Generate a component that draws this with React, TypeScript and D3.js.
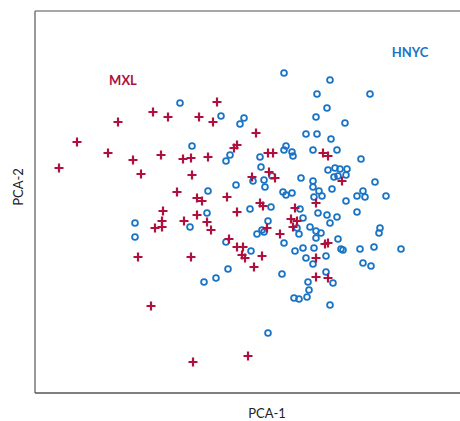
import React from "react";
import * as d3 from "d3";

// PCA scores (arbitrary units)
const mxl: [number, number][] = [
  [-33, 118], [-97, 108], [-82, 103], [-51, 103], [-37, 98], [-132, 98], [-173, 78],
  [-142, 67], [-89, 65], [-67, 61], [-59, 62], [-42, 63], [-117, 60], [-191, 52],
  [-109, 46], [-58, 45], [-73, 28], [-53, 22], [-48, 19], [-23, 23], [6, 87],
  [-13, 75], [-16, 72], [18, 67], [23, 67], [19, 48], [25, 42], [2, 43], [73, 67],
  [78, 64], [92, 39], [66, 17], [10, 17], [13, 14], [45, 12], [-87, 9], [-88, -1],
  [-95, -8], [-88, -7], [-66, -1], [-53, 5], [-43, -2], [-39, -10], [-13, 8], [17, -8],
  [-21, -19], [-13, -27], [-7, -27], [-8, -35], [-5, -38], [12, -36], [4, -47],
  [-112, -37], [-59, -37], [-99, -86], [-57, -142], [-2, -136], [41, 1], [47, -1],
  [43, -7], [30, -14], [75, -24], [78, -23], [66, -38], [66, -57], [78, -58],
];

const hnyc: [number, number][] = [
  [-70, 117], [-29, 104], [-58, 74], [-24, 59], [-20, 65], [-42, 29], [-6, 102],
  [-10, 96], [10, 63], [11, 53], [3, 39], [14, 40], [22, 44], [15, 33], [-14, 35],
  [34, 147], [80, 140], [67, 126], [120, 126], [77, 112], [66, 103], [95, 97],
  [56, 86], [67, 86], [81, 81], [36, 74], [34, 70], [42, 68], [43, 64], [63, 70],
  [87, 70], [111, 61], [51, 42], [63, 39], [63, 33], [69, 29], [72, 24], [64, 23],
  [33, 28], [36, 25], [42, 27], [82, 31], [78, 50], [85, 52], [90, 51], [97, 51],
  [96, 45], [88, 44], [84, 43], [125, 38], [96, 19], [107, 24], [113, 29], [115, 23],
  [136, 24], [21, 13], [50, 11], [0, 11], [-115, -3], [-115, -17], [-60, -7], [-43, 7],
  [-24, -22], [-22, -49], [-34, -58], [-46, -62], [18, -1], [12, -10], [7, -14],
  [14, -12], [1, -31], [68, 7], [77, 5], [87, 3], [80, -3], [53, 2], [47, -8],
  [49, -14], [60, -7], [66, -11], [71, -13], [66, -18], [34, -23], [88, -19],
  [91, -29], [93, -30], [45, -31], [53, -28], [64, -28], [56, -38], [76, -36],
  [63, -44], [32, -54], [76, -52], [58, -62], [83, -63], [59, -70], [57, -77],
  [44, -78], [49, -79], [80, -85], [18, -113], [107, 8], [130, -8], [129, -13],
  [110, -29], [124, -27], [151, -29], [113, -43], [121, -46],
];

const xDomain: [number, number] = [-215, 210];
const yDomain: [number, number] = [-173, 209];
const groupLabels = ["MXL", "HNYC"];
const axisLabels = ["PCA-1", "PCA-2"];

const W = 460;
const H = 421;
const RED = "#b0103d";
const BLUE = "#1a74c6";
const FONT = "Lato, 'Open Sans', sans-serif";

export default function App() {
  const x = d3.scaleLinear().domain(xDomain).range([35, 460]);
  const y = d3.scaleLinear().domain(yDomain).range([393, 11]);
  const s = 4.5;
  return (
    <svg
      width={W}
      height={H}
      style={{ position: "absolute", left: 0, top: 0, background: "#fff" }}
    >
      <line x1={35} y1={11} x2={460} y2={11} stroke="#8a8a8a" strokeWidth={1.6} />
      <line x1={35} y1={11} x2={35} y2={393} stroke="#808080" strokeWidth={1.6} />
      <line x1={35} y1={393} x2={460} y2={393} stroke="#555" strokeWidth={1.5} />
      {hnyc.map((d, i) => (
        <circle
          key={"b" + i}
          cx={x(d[0])}
          cy={y(d[1])}
          r={2.9}
          fill="none"
          stroke={BLUE}
          strokeWidth={1.8}
        />
      ))}
      {mxl.map((d, i) => {
        const cx = x(d[0]);
        const cy = y(d[1]);
        return (
          <path
            key={"r" + i}
            d={`M${cx - s},${cy}H${cx + s}M${cx},${cy - s}V${cy + s}`}
            stroke={RED}
            strokeWidth={2.2}
            fill="none"
          />
        );
      })}
      <text x={123} y={85} textAnchor="middle" fill={RED} fontFamily={FONT} fontWeight={700} fontSize={13}>
        {groupLabels[0]}
      </text>
      <text x={410} y={57} textAnchor="middle" fill={BLUE} fontFamily={FONT} fontWeight={700} fontSize={13}>
        {groupLabels[1]}
      </text>
      <text x={267} y={418} textAnchor="middle" fill="#222" fontFamily={FONT} fontSize={13}>
        {axisLabels[0]}
      </text>
      <text
        transform="translate(23,187) rotate(-90)"
        textAnchor="middle"
        fill="#222"
        fontFamily={FONT}
        fontSize={13}
      >
        {axisLabels[1]}
      </text>
    </svg>
  );
}
